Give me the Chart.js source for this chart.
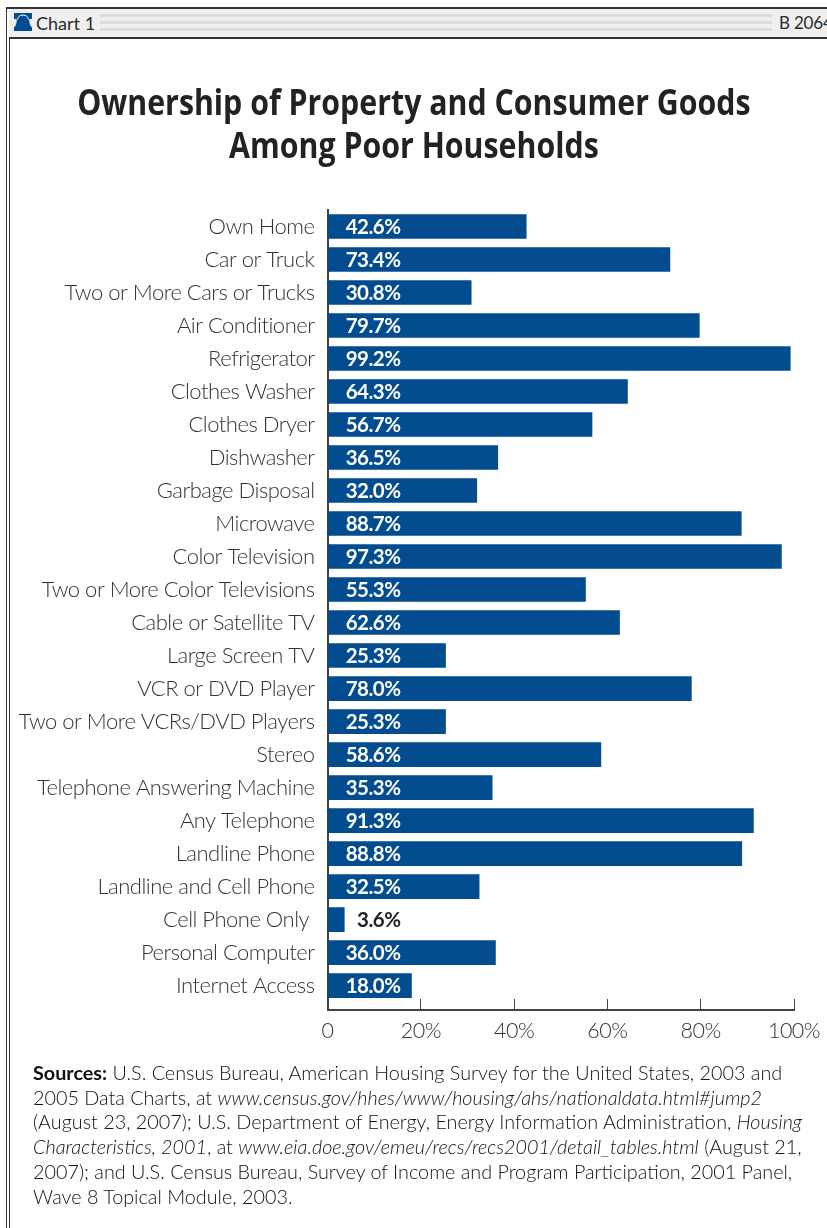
<!DOCTYPE html>
<html>
<head>
<meta charset="utf-8">
<title>Ownership of Property and Consumer Goods Among Poor Households</title>
<script src="https://cdn.jsdelivr.net/npm/chart.js@4"></script>
<style>
html, body { margin: 0; padding: 0; background: #fff; }
body { position: relative; width: 827px; height: 1228px; overflow: hidden; font-family: Lato, sans-serif; color: #2b2b2b; }
#chart { position: absolute; left: 0; top: 0; }
.frame { position: absolute; background: #333; }
#header { position: absolute; left: 9px; top: 8px; width: 818px; height: 29px; background: #efefef; }
.rule { position: absolute; left: 100px; width: 672px; height: 3px; background: #dcdcdc; }
#chartno { position: absolute; left: 36px; top: 13px; font-size: 18px; line-height: 20px; white-space: nowrap; }
#billno { position: absolute; left: 779px; top: 13px; font-size: 17px; letter-spacing: -0.2px; line-height: 20px; white-space: nowrap; }
#bell { position: absolute; left: 14px; top: 13px; }
.title { position: absolute; left: 0; width: 827px; text-align: center; font: 700 36px "Open Sans", sans-serif; line-height: 44px; color: #222; white-space: nowrap; transform: scaleX(0.842); transform-origin: 416px 0; }
#sources { position: absolute; left: 33px; top: 1060px; font-size: 19.8px; font-weight: 300; line-height: 24.7px; color: #111; white-space: nowrap; }
#sources b { font-weight: 700; }
</style>
</head>
<body>
<canvas id="chart" width="827" height="1228"></canvas>
<div id="header"></div>
<div class="frame" style="left:6px;top:7px;width:821px;height:2px"></div>
<div class="rule" style="top:14px"></div>
<div class="rule" style="top:21px"></div>
<div class="rule" style="top:28px"></div>
<div class="frame" style="left:9px;top:37px;width:818px;height:2px"></div>
<div class="frame" style="left:6px;top:8px;width:1px;height:1220px"></div>
<div class="frame" style="left:9px;top:37px;width:1px;height:1191px"></div>
<svg id="bell" width="19" height="18" viewBox="0 0 19 18"><path fill="#034c8f" d="M0 0H18V18H0Z"/><path fill="none" stroke="#fff" stroke-width="1" d="M3.500 6.500C4 3.500 6 2 9 2C12 2 14 3.500 14.500 6.500"/><path fill="#efefef" d="M0 6H2.700C3 10 2 12.500 0 14.500ZM18 6H15.300C15 10 16 12.500 18 14.500Z"/></svg>
<div id="chartno">Chart 1</div>
<div id="billno">B 2064</div>
<div class="title" style="top:80px">Ownership of Property and Consumer Goods</div>
<div class="title" style="top:123px">Among Poor Households</div>
<div id="sources">
<div><b>Sources:</b> U.S. Census Bureau, American Housing Survey for the United States, 2003 and</div>
<div>2005 Data Charts, at <i>www.census.gov/hhes/www/housing/ahs/nationaldata.html#jump2</i></div>
<div>(August 23, 2007); U.S. Department of Energy, Energy Information Administration, <i>Housing</i></div>
<div><i>Characteristics, 2001</i>, at <i>www.eia.doe.gov/emeu/recs/recs2001/detail_tables.html</i> (August 21,</div>
<div>2007); and U.S. Census Bureau, Survey of Income and Program Participation, 2001 Panel,</div>
<div>Wave 8 Topical Module, 2003.</div>
</div>
<script>
const categories = [
    'Own Home', 'Car or Truck', 'Two or More Cars or Trucks', 'Air Conditioner',
    'Refrigerator', 'Clothes Washer', 'Clothes Dryer', 'Dishwasher',
    'Garbage Disposal', 'Microwave', 'Color Television', 'Two or More Color Televisions',
    'Cable or Satellite TV', 'Large Screen TV', 'VCR or DVD Player', 'Two or More VCRs/DVD Players',
    'Stereo', 'Telephone Answering Machine', 'Any Telephone', 'Landline Phone',
    'Landline and Cell Phone', 'Cell Phone Only ', 'Personal Computer', 'Internet Access'
];
const percents = [
    42.6, 73.4, 30.8, 79.7, 99.2, 64.3, 56.7, 36.5, 32.0, 88.7, 97.3, 55.3,
    62.6, 25.3, 78.0, 25.3, 58.6, 35.3, 91.3, 88.8, 32.5, 3.6, 36.0, 18.0
];
const xTicks = [0, 20, 40, 60, 80, 100];

const blue = '#034c8f';
const axisColor = '#444';

// tighter tracking, closer to the narrow face of the original
const tightText = {
    id: 'tightText',
    beforeDraw(chart) {
        chart.ctx.letterSpacing = '-0.5px';
    }
};

// value labels, right aligned inside the bar, dark when the bar is too short
const valueLabels = {
    id: 'valueLabels',
    afterDatasetsDraw(chart) {
        const ctx = chart.ctx;
        const x = chart.scales.x;
        ctx.save();
        ctx.textAlign = 'right';
        ctx.textBaseline = 'middle';
        chart.getDatasetMeta(0).data.forEach(function (bar, i) {
            const inside = percents[i] > 15;
            ctx.font = '700 20.5px Lato, sans-serif';
            ctx.fillStyle = inside ? '#fff' : '#222';
            ctx.fillText(percents[i].toFixed(1) + '%', x.left + 73, bar.y + 1);
        });
        ctx.restore();
    }
};

new Chart(document.getElementById('chart'), {
    type: 'bar',
    data: {
        datasets: [{
            data: percents.map(function (v, i) { return { x: v, y: i }; }),
            backgroundColor: blue,
            barThickness: 24
        }]
    },
    plugins: [tightText, valueLabels],
    options: {
        indexAxis: 'y',
        responsive: false,
        animation: false,
        layout: { padding: { left: 0, right: 33, top: 210, bottom: 158 } },
        plugins: { legend: { display: false }, tooltip: { enabled: false } },
        scales: {
            x: {
                type: 'linear',
                min: 0,
                max: 100,
                afterFit(s) { s.height = 60; s.paddingLeft = 0; s.paddingRight = 0; },
                afterBuildTicks(s) { s.ticks = xTicks.map(function (v) { return { value: v }; }); },
                border: { color: axisColor, width: 2 },
                grid: { drawOnChartArea: false, color: axisColor, tickLength: -11 },
                ticks: {
                    padding: 19,
                    maxRotation: 0,
                    color: '#333',
                    font: { family: 'Lato', size: 21.5, weight: '300' },
                    callback: function (v) { return v === 0 ? '0' : v + '%'; }
                }
            },
            y: {
                type: 'linear',
                reverse: true,
                offset: false,
                bounds: 'data',
                min: -0.5,
                max: 23.74,
                afterFit(s) { s.width = 327.5; s.paddingTop = 0; s.paddingBottom = 0; },
                afterBuildTicks(s) { s.ticks = categories.map(function (c, i) { return { value: i }; }); },
                border: { color: axisColor, width: 2 },
                grid: { drawOnChartArea: false, drawTicks: false, offset: false },
                ticks: {
                    padding: 13,
                    autoSkip: false,
                    color: '#333',
                    font: { family: 'Lato', size: 22, weight: '300' },
                    callback: function (v) { return categories[v]; }
                }
            }
        }
    }
});
</script>
</body>
</html>
